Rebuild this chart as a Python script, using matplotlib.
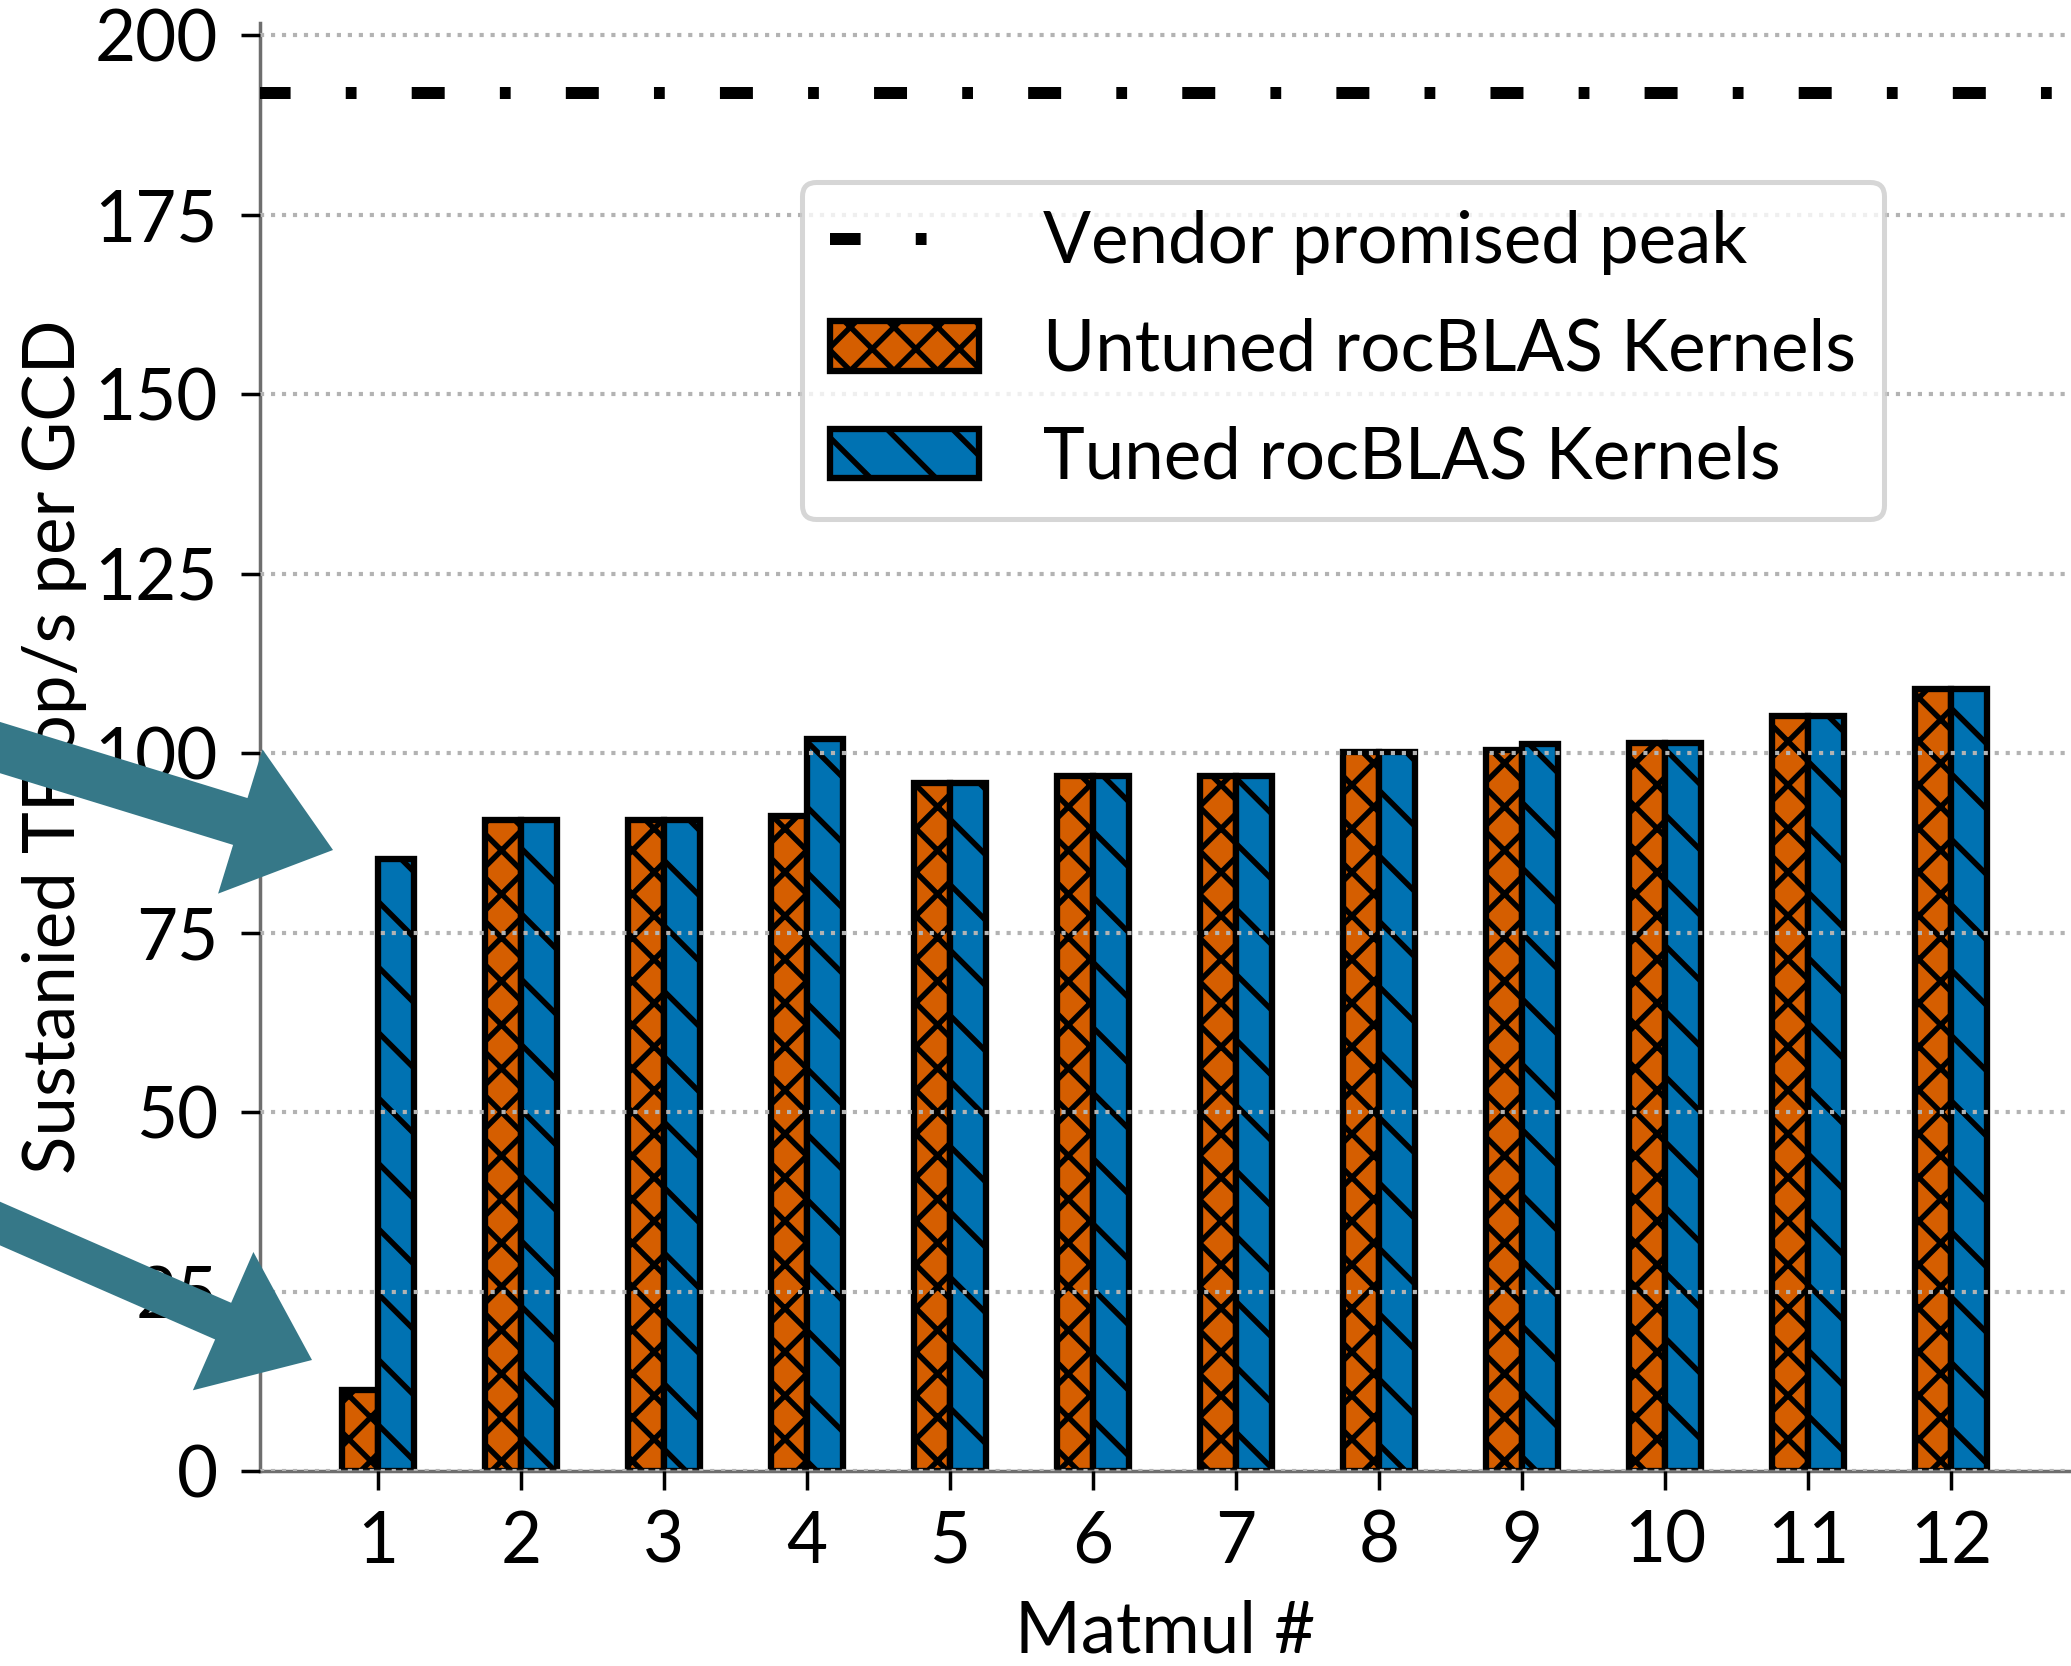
import matplotlib
matplotlib.use('Agg')

import numpy as np
from matplotlib import pyplot as plt
from matplotlib.patches import FancyArrow
from matplotlib.transforms import IdentityTransform

# measured TFlop/s per GCD, one value per matmul
matmul_ids = list(range(1, 13))
untuned_tflops = [11.3, 90.7, 90.7, 91.2, 95.9, 96.8, 96.8, 100.2, 100.5, 101.4, 105.2, 108.9]
tuned_tflops = [85.2, 90.7, 90.7, 102.0, 95.9, 96.8, 96.8, 100.2, 101.2, 101.4, 105.2, 108.9]
vendor_peak = 191.9
y_ticks = [0, 25, 50, 75, 100, 125, 150, 175, 200]

DPI = 785
W, H = 2071, 1666
FS = 6.5

plt.rcParams['font.family'] = ['Lato', 'DejaVu Sans']
plt.rcParams['font.size'] = FS
plt.rcParams['hatch.linewidth'] = 0.5

fig = plt.figure(figsize=(W / DPI, H / DPI), dpi=DPI)
ax = fig.add_axes([260 / W, 1 - 1471 / H, 1 - 260 / W, (1471 - 23) / H])

x = np.array(matmul_ids)
bw = 0.25
ax.bar(x - bw / 2, untuned_tflops, bw, color='#D55E00', edgecolor='black', linewidth=0.58,
       hatch='xxxxxx', label='Untuned rocBLAS Kernels', zorder=1)
ax.bar(x + bw / 2, tuned_tflops, bw, color='#0072B2', edgecolor='black', linewidth=0.58,
       hatch='\\\\\\\\', label='Tuned rocBLAS Kernels', zorder=1)
ax.axhline(vendor_peak, color='black', linewidth=1.1, linestyle=(0.2, (2.75, 4.6, 0.9, 4.6)),
           dash_capstyle='butt', label='Vendor promised peak', zorder=3)

ax.set_xlim(0.175, 12.84)
ax.set_ylim(0, 201.7)
ax.set_xticks(matmul_ids)
ax.set_yticks(y_ticks)
ax.yaxis.grid(True, linestyle=':', color='#b3b3b3', linewidth=0.38)
ax.set_axisbelow(False)

for s in ['top', 'right']:
    ax.spines[s].set_visible(False)
for s in ['left', 'bottom']:
    ax.spines[s].set_color('#6e6e6e')
    ax.spines[s].set_linewidth(0.32)
ax.tick_params(axis='both', length=1.75, width=0.32, color='black', labelsize=FS)
ax.tick_params(axis='y', pad=2.1)
ax.tick_params(axis='x', pad=1.8)

ax.set_xlabel('Matmul #', fontsize=FS)
ax.set_ylabel('Sustanied TFlop/s per GCD', fontsize=FS)
ax.yaxis.set_label_coords(-0.0955, 0.5)
ax.xaxis.set_label_coords(0.5, -0.089)

leg = ax.legend(loc='upper left', bbox_to_anchor=(802 / W, 1 - 182 / H),
                bbox_transform=fig.transFigure, borderaxespad=0, fontsize=FS,
                handlelength=2.1, handletextpad=0.9, labelspacing=0.6, borderpad=0.4,
                framealpha=0.8, edgecolor='#cccccc', fancybox=True)
leg.get_frame().set_linewidth(0.46)

# the two callout arrows, in output pixels (y from the top)
arrow_col = '#367888'
for (x0, y0, x1, y1, w) in [(-100, 716.8, 333, 850, 49), (-100, 1179.8, 312, 1360, 40)]:
    arr = FancyArrow(x0, H - y0, x1 - x0, -(y1 - y0), width=w, head_width=151, head_length=97,
                     length_includes_head=True, color=arrow_col, linewidth=0,
                     transform=IdentityTransform())
    fig.add_artist(arr)

fig.savefig('out.png', dpi=DPI)
